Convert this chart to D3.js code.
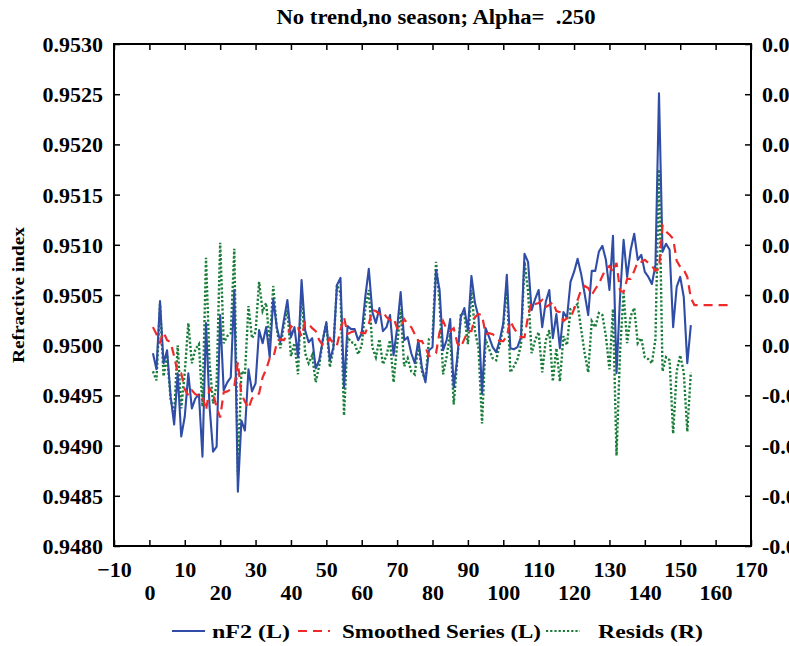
<!DOCTYPE html>
<html>
<head>
<meta charset="utf-8">
<script src="https://cdn.jsdelivr.net/npm/d3@7"></script>
<style>
  html, body { margin: 0; padding: 0; background: #fff; }
  svg { display: block; }
  text { font-family: "Liberation Serif", "Times New Roman", serif; font-weight: bold; fill: #000; white-space: pre; }
</style>
</head>
<body>
<svg id="chart" width="789" height="646"></svg>
<script>
// Observed refractive index nF2, cases 1..153
const nF2 = [
  0.94992,0.94976,0.95044,0.94982,0.94995,0.94949,0.94921,0.94972,0.94909,0.94929,
  0.94972,0.94937,0.94947,0.94951,0.94889,0.95022,0.94939,0.94894,0.94899,0.95030,
  0.94955,0.94963,0.94968,0.95055,0.94854,0.94925,0.94915,0.94976,0.94954,0.94962,
  0.95015,0.95002,0.95018,0.94988,0.95046,0.95018,0.95003,0.95025,0.95045,0.95008,
  0.95018,0.94988,0.95065,0.95015,0.95003,0.95007,0.94977,0.94985,0.95005,0.95023,
  0.94985,0.94998,0.95060,0.95067,0.94958,0.95019,0.95016,0.95016,0.95005,0.95012,
  0.95048,0.95076,0.95033,0.95022,0.95037,0.95014,0.95018,0.95030,0.94990,0.95017,
  0.95053,0.95005,0.95008,0.94992,0.94982,0.95005,0.94978,0.94963,0.94995,0.94998,
  0.95075,0.95055,0.94995,0.95005,0.95026,0.94958,0.94987,0.95028,0.95037,0.95015,
  0.95069,0.95042,0.95028,0.94952,0.95017,0.95008,0.94998,0.94993,0.95005,0.95022,
  0.95070,0.94997,0.94996,0.94998,0.95008,0.95091,0.95083,0.95035,0.95046,0.95055,
  0.95018,0.95043,0.95055,0.95007,0.95031,0.94997,0.95033,0.95027,0.95063,0.95073,
  0.95086,0.95071,0.95051,0.95030,0.95074,0.95074,0.95093,0.95099,0.95085,0.95055,
  0.95109,0.94972,0.95048,0.95105,0.95068,0.95095,0.95111,0.95085,0.95090,0.95073,
  0.95068,0.95061,0.95080,0.95251,0.95093,0.95101,0.95095,0.95018,0.95058,0.95068,
  0.95048,0.94982,0.95020
];

// Smoothed series (alpha = .25), cases 1..164 including the flat forecast
const smoothed = [
  0.95018,0.95011,0.95003,0.95013,0.95005,0.95003,0.94989,0.94972,0.94972,0.94956,0.94950,0.94955,0.94951,0.94950,0.94950,
  0.94935,0.94957,0.94952,0.94938,0.94928,0.94953,0.94954,0.94956,0.94959,0.94983,0.94951,0.94944,0.94937,0.94947,0.94949,
  0.94952,0.94968,0.94976,0.94987,0.94987,0.95002,0.95006,0.95005,0.95010,0.95019,0.95016,0.95017,0.95009,0.95023,0.95021,
  0.95017,0.95014,0.95005,0.95000,0.95001,0.95007,0.95001,0.95000,0.95015,0.95028,0.95011,0.95013,0.95014,0.95014,0.95012,
  0.95012,0.95021,0.95035,0.95034,0.95031,0.95033,0.95028,0.95025,0.95027,0.95017,0.95017,0.95026,0.95021,0.95018,0.95011,
  0.95004,0.95004,0.94998,0.94989,0.94990,0.94992,0.95013,0.95024,0.95016,0.95014,0.95017,0.95002,0.94998,0.95006,0.95014,
  0.95014,0.95028,0.95031,0.95030,0.95011,0.95012,0.95011,0.95008,0.95004,0.95004,0.95009,0.95024,0.95017,0.95012,0.95008,
  0.95008,0.95029,0.95043,0.95041,0.95042,0.95045,0.95038,0.95040,0.95043,0.95034,0.95033,0.95024,0.95027,0.95027,0.95036,
  0.95045,0.95055,0.95059,0.95057,0.95050,0.95056,0.95061,0.95069,0.95076,0.95079,0.95073,0.95082,0.95054,0.95053,0.95066,
  0.95066,0.95074,0.95083,0.95083,0.95085,0.95082,0.95079,0.95074,0.95076,0.95119,0.95113,0.95110,0.95106,0.95084,0.95078,
  0.95075,0.95068,0.95047,0.95040,
  0.95040,0.95040,0.95040,0.95040,0.95040,0.95040,0.95040,0.95040,0.95040,0.95040
];

// Residuals, cases 1..153 (right axis)
const resids = [
  -0.00026,-0.00035,0.00041,-0.00031,-0.00010,-0.00054,-0.00068,0.00000,-0.00063,-0.00027,0.00022,-0.00018,-0.00004,0.00001,-0.00061,
  0.00087,-0.00018,-0.00058,-0.00039,0.00102,0.00002,0.00009,0.00012,0.00096,-0.00129,-0.00026,-0.00029,0.00039,0.00007,0.00013,
  0.00063,0.00034,0.00042,0.00001,0.00059,0.00016,-0.00003,0.00020,0.00035,-0.00011,0.00002,-0.00029,0.00056,-0.00008,-0.00018,
  -0.00010,-0.00037,-0.00020,0.00005,0.00022,-0.00022,-0.00003,0.00060,0.00052,-0.00070,0.00008,0.00003,0.00002,-0.00009,0.00000,
  0.00036,0.00055,-0.00002,-0.00012,0.00006,-0.00019,-0.00010,0.00005,-0.00037,0.00000,0.00036,-0.00021,-0.00013,-0.00026,-0.00029,
  0.00001,-0.00026,-0.00035,0.00006,0.00008,0.00083,0.00042,-0.00029,-0.00011,0.00012,-0.00059,-0.00015,0.00030,0.00031,0.00001,
  0.00055,0.00014,-0.00003,-0.00078,0.00006,-0.00004,-0.00013,-0.00015,0.00001,0.00018,0.00061,-0.00027,-0.00021,-0.00014,0.00000,
  0.00083,0.00054,-0.00008,0.00005,0.00013,-0.00027,0.00005,0.00015,-0.00036,-0.00003,-0.00036,0.00009,0.00000,0.00036,0.00037,
  0.00041,0.00016,-0.00008,-0.00027,0.00024,0.00018,0.00032,0.00030,0.00009,-0.00024,0.00036,-0.00110,-0.00006,0.00052,0.00002,
  0.00029,0.00037,0.00002,0.00007,-0.00012,-0.00014,-0.00018,0.00006,0.00175,-0.00026,-0.00012,-0.00015,-0.00088,-0.00026,-0.00010,
  -0.00027,-0.00086,-0.00027
];

// Axis ticks and labels
const xTicks = [-10,0,10,20,30,40,50,60,70,80,90,100,110,120,130,140,150,160,170];
const leftTicks = [0.9480,0.9485,0.9490,0.9495,0.9500,0.9505,0.9510,0.9515,0.9520,0.9525,0.9530];
const leftLabels = ["0.9480","0.9485","0.9490","0.9495","0.9500","0.9505","0.9510","0.9515","0.9520","0.9525","0.9530"];
const rightTicks = [-0.0020,-0.0015,-0.0010,-0.0005,0.0000,0.0005,0.0010,0.0015,0.0020,0.0025,0.0030];
const rightLabels = ["-0.0020","-0.0015","-0.0010","-0.0005","0.0000","0.0005","0.0010","0.0015","0.0020","0.0025","0.0030"];

const titleText = "No trend,no season; Alpha=  .250";
const yTitle = "Refractive index";
const legendItems = [
  { label: "nF2 (L)", color: "#2f4da6", dash: null },
  { label: "Smoothed Series (L)", color: "#ee2a2a", dash: "9,6" },
  { label: "Resids (R)", color: "#1b7d3a", dash: "2.2,2" }
];

const svg = d3.select("#chart");
const m = { left: 114, right: 751, top: 44, bottom: 546 };

const x = d3.scaleLinear().domain([-10, 170]).range([m.left, m.right]);
const yL = d3.scaleLinear().domain([0.9480, 0.9530]).range([m.bottom, m.top]);
const yR = d3.scaleLinear().domain([-0.0020, 0.0030]).range([m.bottom, m.top]);

// Title
svg.append("text")
  .attr("x", 436).attr("y", 24)
  .attr("text-anchor", "middle")
  .attr("xml:space", "preserve")
  .style("font-size", "20px")
  .attr("textLength", 319).attr("lengthAdjust", "spacingAndGlyphs")
  .text(titleText);

// Series lines
const plot = svg.append("g");
const lineL = (arr) => d3.line().x((d, i) => x(i + 1)).y(d => yL(d))(arr);
const lineR = (arr) => d3.line().x((d, i) => x(i + 1)).y(d => yR(d))(arr);

plot.append("path").attr("d", lineR(resids))
  .attr("fill", "none").attr("stroke", legendItems[2].color)
  .attr("stroke-width", 2.4).attr("stroke-dasharray", legendItems[2].dash);
plot.append("path").attr("d", lineL(nF2))
  .attr("fill", "none").attr("stroke", legendItems[0].color)
  .attr("stroke-width", 2.1).attr("stroke-linejoin", "round");
plot.append("path").attr("d", lineL(smoothed))
  .attr("fill", "none").attr("stroke", legendItems[1].color)
  .attr("stroke-width", 2.2).attr("stroke-dasharray", legendItems[1].dash);

// Axes with inward ticks on all four sides
const fmtL = d => leftLabels[leftTicks.indexOf(d)];
const fmtR = d => rightLabels[rightTicks.indexOf(d)];

const gL = svg.append("g").attr("transform", `translate(${m.left},0)`)
  .call(d3.axisLeft(yL).tickValues(leftTicks).tickFormat(fmtL).tickSize(-6).tickPadding(11));
const gR = svg.append("g").attr("transform", `translate(${m.right},0)`)
  .call(d3.axisRight(yR).tickValues(rightTicks).tickFormat(fmtR).tickSize(-6).tickPadding(11));
const gB = svg.append("g").attr("transform", `translate(0,${m.bottom})`)
  .call(d3.axisBottom(x).tickValues(xTicks).tickFormat(d3.format("d")).tickSize(-6).tickPadding(8));
const gT = svg.append("g").attr("transform", `translate(0,${m.top})`)
  .call(d3.axisTop(x).tickValues(xTicks).tickFormat("").tickSize(-6));

[gL, gR, gB, gT].forEach(g => {
  g.select(".domain").remove();
  g.selectAll(".tick line").attr("stroke", "#000").attr("stroke-width", 1.5);
  g.selectAll("text").style("font-size", "22px").attr("fill", "#000")
    .style("font-family", "'Liberation Serif', serif").style("font-weight", "bold");
});
gL.selectAll("text").attr("dy", "0.34em");
gR.selectAll("text").attr("dy", "0.34em");
// Staggered x labels: odd tens on the first row, even tens on the second
gB.selectAll(".tick text")
  .attr("y", d => (Math.round(d / 10) % 2 === 0) ? 54 : 31)
  .attr("dy", "0");

// Frame
svg.append("rect")
  .attr("x", m.left).attr("y", m.top)
  .attr("width", m.right - m.left).attr("height", m.bottom - m.top)
  .attr("fill", "none").attr("stroke", "#000").attr("stroke-width", 2);

// Y axis title
svg.append("text")
  .attr("transform", `translate(24,${(m.top + m.bottom) / 2}) rotate(-90)`)
  .attr("text-anchor", "middle")
  .style("font-size", "17px")
  .attr("textLength", 136).attr("lengthAdjust", "spacingAndGlyphs")
  .text(yTitle);

// Legend
const legendY = 631;
const legendPos = [
  { x0: 172, x1: 205, tx: 212, tw: 78 },
  { x0: 298, x1: 330, tx: 342, tw: 199 },
  { x0: 546, x1: 580, tx: 598, tw: 105 }
];
const lg = svg.append("g");
legendItems.forEach((it, i) => {
  const p = legendPos[i];
  lg.append("line")
    .attr("x1", p.x0).attr("x2", p.x1).attr("y1", legendY).attr("y2", legendY)
    .attr("stroke", it.color).attr("stroke-width", 2)
    .attr("stroke-dasharray", it.dash);
  lg.append("text")
    .attr("x", p.tx).attr("y", legendY + 7)
    .style("font-size", "19px")
    .attr("textLength", p.tw).attr("lengthAdjust", "spacingAndGlyphs")
    .text(it.label);
});
</script>
</body>
</html>
